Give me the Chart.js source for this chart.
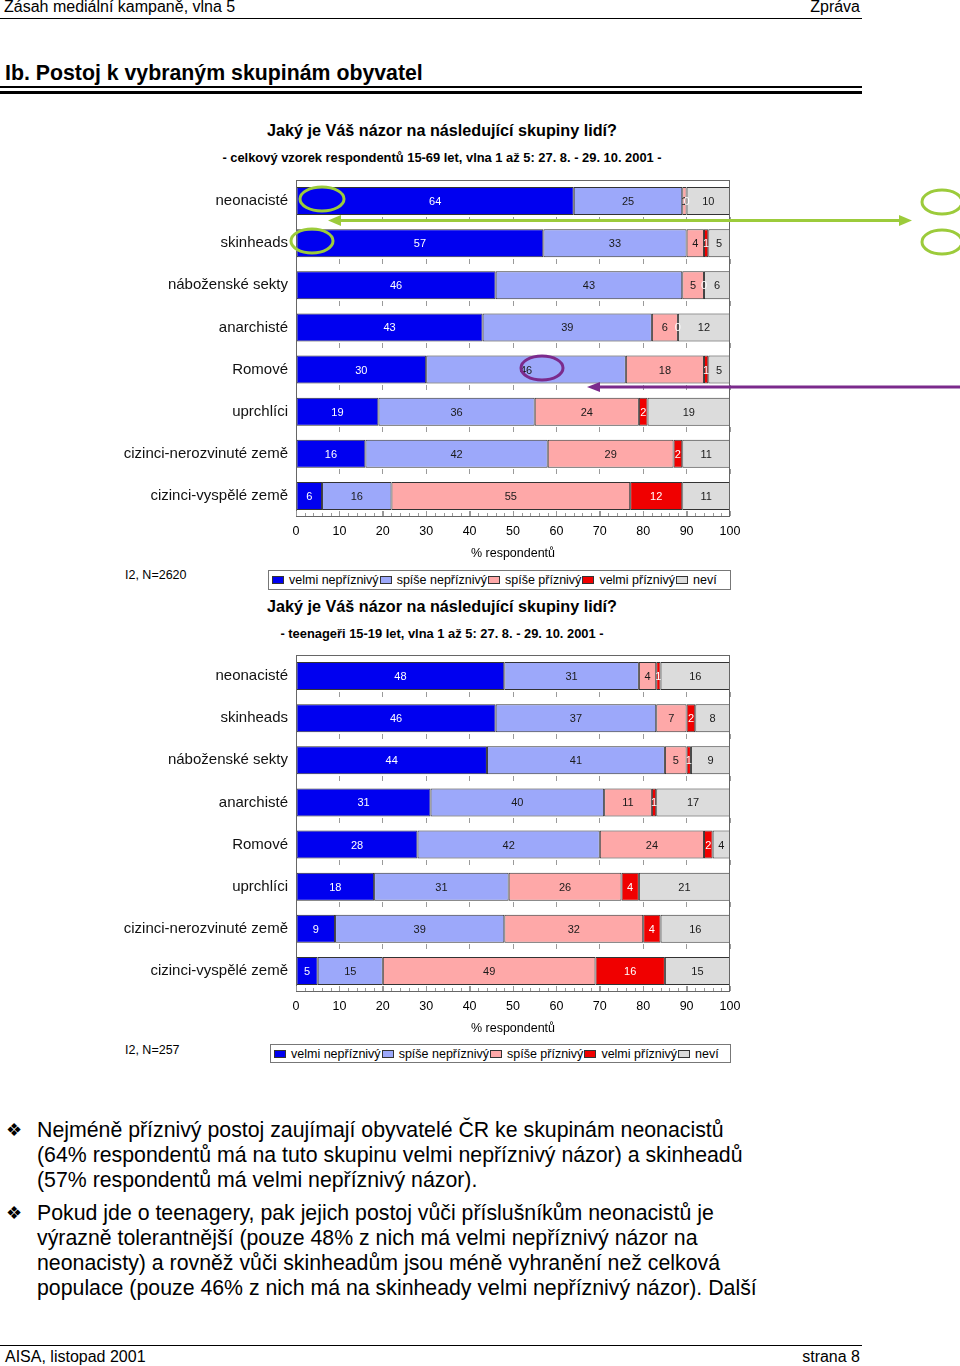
<!DOCTYPE html>
<html>
<head>
<meta charset="utf-8">
<script src="https://cdn.jsdelivr.net/npm/chart.js@4.4.1/dist/chart.umd.min.js"></script>
<style>
    body { margin: 0; background: #fff; font-family: "Liberation Sans", Arial, sans-serif; color: #000; }
    #page { position: relative; width: 960px; height: 1366px; overflow: hidden; }
    .abs { position: absolute; white-space: nowrap; }
    .rule { position: absolute; left: 0; width: 862px; background: #000; }
    .ctitle { position: absolute; left: 0; width: 884px; text-align: center; font-weight: bold; }
    .legend { position: absolute; height: 17px; border: 1px solid #777; display: flex; align-items: center;
              padding-left: 3px; font-size: 12.5px; box-sizing: border-box; }
    .legend .box { width: 12px; height: 8px; border: 1px solid #333; margin-right: 5px; box-sizing: border-box; }
    .legend .item { display: flex; align-items: center; margin-right: 1px; }
    .bullets { position: absolute; left: 0; top: 1118px; font-size: 21.3px; line-height: 24.8px; }
    .bullets p { margin: 0 0 9px 0; padding-left: 37px; position: relative; }
    .bullets p span.b { position: absolute; left: 6px; top: 0; font-family: "DejaVu Sans"; font-size: 18px; }
    canvas { position: absolute; left: 0; }
</style>
</head>
<body>
<div id="page">
    <div class="abs" style="left:4px;top:-2px;font-size:16px;line-height:18px;">Zásah mediální kampaně, vlna 5</div>
    <div class="abs" style="right:100px;top:-2px;font-size:16px;line-height:18px;">Zpráva</div>
    <div class="rule" style="top:18px;height:1px;"></div>

    <div class="abs" style="left:5px;top:61px;font-size:21.3px;line-height:25px;font-weight:bold;">Ib. Postoj k vybraným skupinám obyvatel</div>
    <div class="rule" style="top:86px;height:2px;"></div>
    <div class="rule" style="top:91px;height:3px;"></div>

    <div class="ctitle" style="top:121px;font-size:16.2px;line-height:19px;">Jaký je Váš názor na následující skupiny lidí?</div>
    <div class="ctitle" style="top:150px;font-size:12.9px;line-height:15px;">- celkový vzorek respondentů 15-69 let, vlna 1 až 5: 27. 8. - 29. 10. 2001 -</div>
    <canvas id="chartAll" width="760" height="403" style="top:163px;"></canvas>
    <div class="abs" style="left:125px;top:568px;font-size:12.5px;line-height:15px;">I2, N=2620</div>
    <div class="legend" id="legendAll" style="left:268px;top:570px;width:463px;height:20px;"></div>

    <div class="ctitle" style="top:597px;font-size:16.2px;line-height:19px;">Jaký je Váš názor na následující skupiny lidí?</div>
    <div class="ctitle" style="top:626px;font-size:12.9px;line-height:15px;">- teenageři 15-19 let, vlna 1 až 5: 27. 8. - 29. 10. 2001 -</div>
    <canvas id="chartTeen" width="760" height="403" style="top:638px;"></canvas>
    <div class="abs" style="left:125px;top:1043px;font-size:12.5px;line-height:15px;">I2, N=257</div>
    <div class="legend" id="legendTeen" style="left:270px;top:1044px;width:461px;height:19px;"></div>

    <svg class="abs" width="960" height="420" style="left:0;top:0;" viewBox="0 0 960 420">
        <g fill="none" stroke="#9ccb3b" stroke-width="3">
            <ellipse cx="322" cy="199" rx="22" ry="12"/>
            <ellipse cx="312" cy="241" rx="21" ry="12"/>
            <ellipse cx="942" cy="202" rx="20" ry="12"/>
            <ellipse cx="942" cy="242" rx="20" ry="12"/>
            <line x1="338" y1="220.5" x2="902" y2="220.5"/>
        </g>
        <polygon points="328,220.5 341,215 341,226" fill="#9ccb3b"/>
        <polygon points="912,220.5 899,215 899,226" fill="#9ccb3b"/>
        <g fill="none" stroke="#7b2a8c" stroke-width="3">
            <ellipse cx="542" cy="368" rx="21" ry="12"/>
            <line x1="598" y1="387" x2="960" y2="387"/>
        </g>
        <polygon points="587,387 600,382 600,392" fill="#7b2a8c"/>
    </svg>

    <div class="bullets">
        <p><span class="b">❖</span>Nejméně příznivý postoj zaujímají obyvatelé ČR ke skupinám neonacistů<br>(64% respondentů má na tuto skupinu velmi nepříznivý názor) a skinheadů<br>(57% respondentů má velmi nepříznivý názor).</p>
        <p><span class="b">❖</span>Pokud jde o teenagery, pak jejich postoj vůči příslušníkům neonacistů je<br>výrazně tolerantnější (pouze 48% z nich má velmi nepříznivý názor na<br>neonacisty) a rovněž vůči skinheadům jsou méně vyhranění než celková<br>populace (pouze 46% z nich má na skinheady velmi nepříznivý názor). Další</p>
    </div>

    <div class="rule" style="top:1345px;height:1px;"></div>
    <div class="abs" style="left:5px;top:1348px;font-size:16px;line-height:18px;">AISA, listopad 2001</div>
    <div class="abs" style="right:100px;top:1348px;font-size:16px;line-height:18px;">strana 8</div>
</div>

<script>
    var categories = ['neonacisté', 'skinheads', 'náboženské sekty', 'anarchisté', 'Romové', 'uprchlíci', 'cizinci-nerozvinuté země', 'cizinci-vyspělé země'];
    var seriesNames = ['velmi nepříznivý', 'spíše nepříznivý', 'spíše příznivý', 'velmi příznivý', 'neví'];
    var seriesColors = ['#0000f0', '#9ca8fa', '#fea8a8', '#f00000', '#dcdcdc'];
    var labelColors = ['#ffffff', '#1a1a1a', '#1a1a1a', '#ffffff', '#1a1a1a'];

    // celkovy vzorek 15-69
    var allVeryNeg = [64, 57, 46, 43, 30, 19, 16, 6];
    var allRatherNeg = [25, 33, 43, 39, 46, 36, 42, 16];
    var allRatherPos = [1, 4, 5, 6, 18, 24, 29, 55];
    var allVeryPos = [0, 1, 0, 0, 1, 2, 2, 12];
    var allDontKnow = [10, 5, 6, 12, 5, 19, 11, 11];

    // teenageri 15-19
    var teenVeryNeg = [48, 46, 44, 31, 28, 18, 9, 5];
    var teenRatherNeg = [31, 37, 41, 40, 42, 31, 39, 15];
    var teenRatherPos = [4, 7, 5, 11, 24, 26, 32, 49];
    var teenVeryPos = [1, 2, 1, 1, 2, 4, 4, 16];
    var teenDontKnow = [16, 8, 9, 17, 4, 21, 16, 15];

    var axisMin = 0;
    var axisMax = 100;
    var axisStep = 10;

    Chart.defaults.font.family = '"Liberation Sans", Arial, sans-serif';
    Chart.defaults.color = '#000';

    var barLabels = {
        id: 'barLabels',
        afterDatasetsDraw: function (chart) {
            var ctx = chart.ctx;
            ctx.save();
            ctx.font = '11px "Liberation Sans", Arial, sans-serif';
            ctx.textAlign = 'center';
            ctx.textBaseline = 'middle';
            chart.data.datasets.forEach(function (ds, i) {
                chart.getDatasetMeta(i).data.forEach(function (bar, j) {
                    ctx.fillStyle = labelColors[i];
                    ctx.fillText(ds.data[j], (bar.x + bar.base) / 2, bar.y + 1);
                });
            });
            ctx.restore();
        }
    };

    var plotFrame = {
        id: 'plotFrame',
        afterDraw: function (chart) {
            var ctx = chart.ctx;
            var a = chart.chartArea;
            var x = chart.scales.x;
            ctx.save();
            ctx.strokeStyle = '#666';
            ctx.lineWidth = 1;
            ctx.strokeRect(Math.round(a.left) + 0.5, Math.round(a.top) + 0.5, Math.round(a.right - a.left) - 1, Math.round(a.bottom - a.top) - 1);
            ctx.strokeStyle = '#999';
            ctx.beginPath();
            for (var v = axisMin; v <= axisMax; v += 2) {
                var px = Math.round(x.getPixelForValue(v)) + 0.5;
                ctx.moveTo(px, a.bottom - 1);
                ctx.lineTo(px, a.bottom - (v % 10 === 0 ? 6 : 4));
            }
            ctx.stroke();
            ctx.restore();
        }
    };

    function makeChart(id, values) {
        new Chart(document.getElementById(id), {
            type: 'bar',
            data: {
                labels: categories,
                datasets: seriesNames.map(function (name, i) {
                    return {
                        label: name,
                        data: values[i],
                        backgroundColor: seriesColors[i],
                        borderColor: '#333',
                        borderWidth: 1,
                        borderSkipped: false,
                        barPercentage: 1,
                        categoryPercentage: 0.667
                    };
                })
            },
            options: {
                indexAxis: 'y',
                responsive: false,
                animation: false,
                layout: { padding: { top: 10, right: 30, bottom: 5, left: 0 } },
                scales: {
                    x: {
                        stacked: true,
                        min: axisMin,
                        max: axisMax,
                        ticks: { stepSize: axisStep, padding: 7, font: { size: 12.5 }, color: '#000' },
                        grid: { color: '#9a9a9a', drawTicks: false },
                        border: { display: false, dash: [5, 37], dashOffset: 5 },
                        title: { display: true, text: '% respondentů', font: { size: 12.5 }, padding: { top: 0, bottom: 0 } }
                    },
                    y: {
                        stacked: true,
                        afterFit: function (scale) { scale.width = 296; },
                        ticks: { padding: 8, font: { size: 15 }, color: '#111' },
                        grid: { display: false, drawTicks: false },
                        border: { display: false }
                    }
                },
                plugins: {
                    legend: { display: false },
                    tooltip: { enabled: false }
                }
            },
            plugins: [barLabels, plotFrame]
        });
    }

    function makeLegend(id) {
        var el = document.getElementById(id);
        seriesNames.forEach(function (name, i) {
            var item = document.createElement('div');
            item.className = 'item';
            var box = document.createElement('span');
            box.className = 'box';
            box.style.background = seriesColors[i];
            item.appendChild(box);
            item.appendChild(document.createTextNode(name));
            el.appendChild(item);
        });
    }

    makeChart('chartAll', [allVeryNeg, allRatherNeg, allRatherPos, allVeryPos, allDontKnow]);
    makeChart('chartTeen', [teenVeryNeg, teenRatherNeg, teenRatherPos, teenVeryPos, teenDontKnow]);
    makeLegend('legendAll');
    makeLegend('legendTeen');
</script>
</body>
</html>
